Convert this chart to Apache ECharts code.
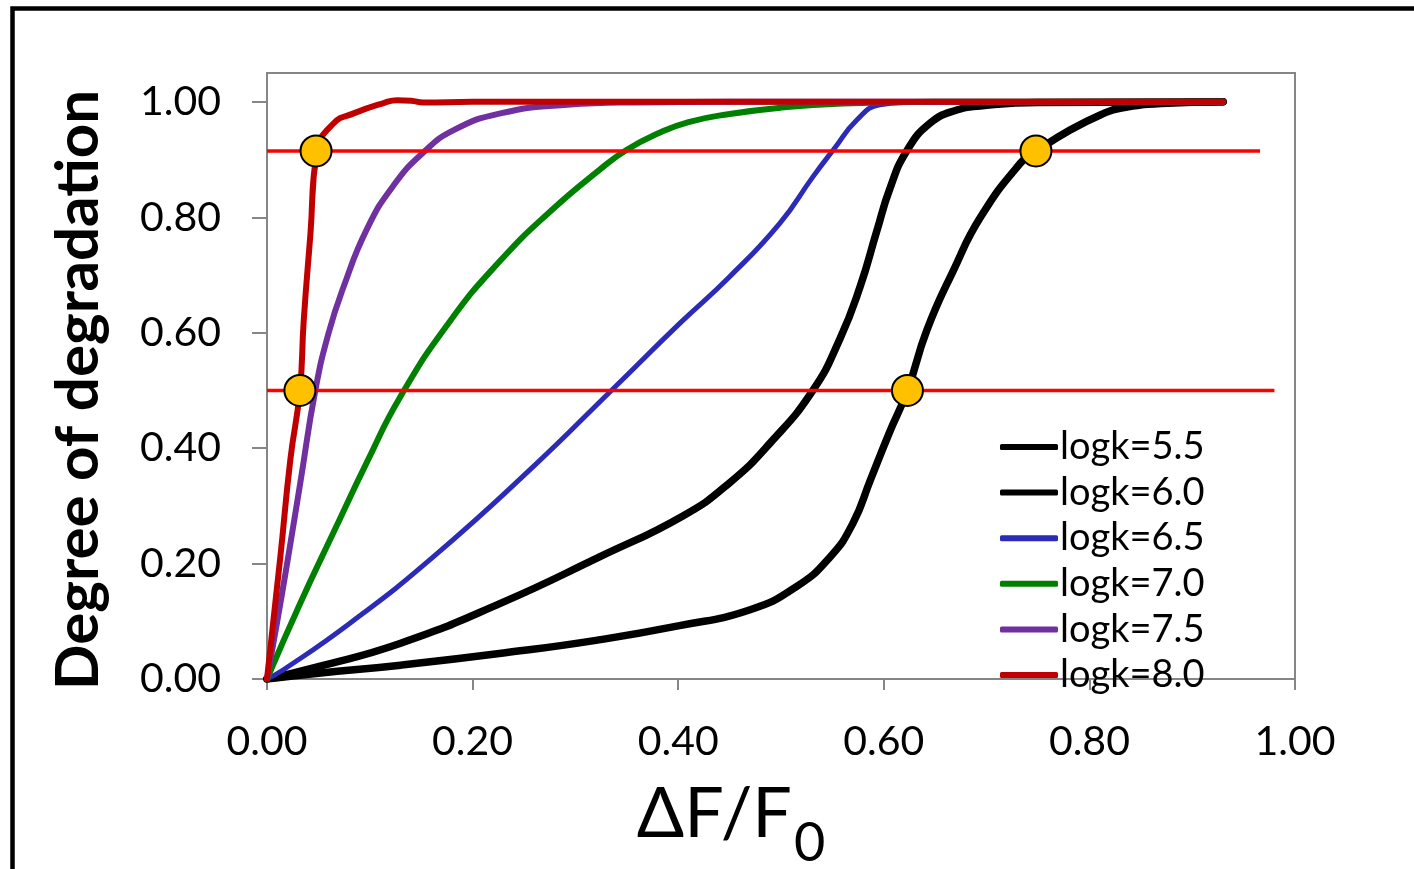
<!DOCTYPE html>
<html>
<head>
<meta charset="utf-8">
<script src="https://cdn.jsdelivr.net/npm/echarts@6/dist/echarts.min.js"></script>
<style>
html,body{margin:0;padding:0;background:#fff;}
#chart{width:1414px;height:869px;}
</style>
</head>
<body>
<div id="chart"></div>
<script>
// ---- data ----
const seriesNames = ['logk=5.5','logk=6.0','logk=6.5','logk=7.0','logk=7.5','logk=8.0'];

const x55 = [0, 0.05, 0.13, 0.23, 0.32, 0.40, 0.47, 0.515, 0.548, 0.57, 0.587, 0.605, 0.623, 0.642, 0.668, 0.694, 0.733, 0.748, 0.781, 0.814, 0.83, 0.87, 0.93];
const y55 = [0, 0.010, 0.024, 0.045, 0.067, 0.092, 0.120, 0.160, 0.212, 0.270, 0.345, 0.425, 0.500, 0.605, 0.709, 0.800, 0.894, 0.914, 0.951, 0.980, 0.989, 0.997, 1.000];

const x60 = [0, 0.049, 0.13, 0.227, 0.324, 0.405, 0.45, 0.49, 0.531, 0.557, 0.577, 0.593, 0.606, 0.622, 0.645, 0.671, 0.694, 0.75, 0.93];
const y60 = [0, 0.021, 0.062, 0.131, 0.212, 0.283, 0.340, 0.410, 0.500, 0.588, 0.680, 0.775, 0.850, 0.914, 0.963, 0.986, 0.993, 0.999, 1.000];

const x65 = [0, 0.016, 0.081, 0.162, 0.259, 0.335, 0.402, 0.45, 0.499, 0.531, 0.551, 0.574, 0.596, 0.622, 0.70, 0.93];
const y65 = [0, 0.016, 0.097, 0.212, 0.368, 0.500, 0.617, 0.697, 0.790, 0.870, 0.917, 0.969, 0.995, 0.999, 1.000, 1.000];

const x70 = [0, 0.032, 0.065, 0.097, 0.13, 0.178, 0.227, 0.276, 0.324, 0.35, 0.38, 0.41, 0.45, 0.50, 0.56, 0.65, 0.93];
const y70 = [0, 0.130, 0.255, 0.375, 0.490, 0.620, 0.725, 0.811, 0.883, 0.917, 0.945, 0.965, 0.979, 0.990, 0.997, 1.000, 1.000];

const x75 = [0, 0.01, 0.02, 0.0324, 0.047, 0.06, 0.0746, 0.0973, 0.123, 0.152, 0.1816, 0.227, 0.292, 0.357, 0.45, 0.93];
const y75 = [0, 0.100, 0.205, 0.340, 0.500, 0.600, 0.680, 0.780, 0.855, 0.912, 0.951, 0.980, 0.995, 0.999, 1.000, 1.000];

const x80 = [0, 0.013, 0.0227, 0.032, 0.0357, 0.0422, 0.0486, 0.0649, 0.0843, 0.1135, 0.1265, 0.14, 0.152, 0.20, 0.93];
const y80 = [0, 0.212, 0.380, 0.500, 0.620, 0.770, 0.914, 0.963, 0.980, 0.998, 1.003, 1.002, 0.999, 1.000, 1.000];

const refHighX = [0, 0.966];
const refHighY = [0.915, 0.915];
const refLowX = [0, 0.98];
const refLowY = [0.5, 0.5];

const markerX = [0.0477, 0.032, 0.623, 0.748];
const markerY = [0.915, 0.5, 0.5, 0.915];

const xTicks = [0, 0.2, 0.4, 0.6, 0.8, 1.0];
const yTicks = [0, 0.2, 0.4, 0.6, 0.8, 1.0];

// ---- build ----
const zip = (xs, ys) => xs.map((x, i) => [x, ys[i]]);
const curveXs = [x55, x60, x65, x70, x75, x80];
const curveYs = [y55, y60, y65, y70, y75, y80];
const curveColors = ['#000000', '#000000', '#2B2BB8', '#008000', '#7030A0', '#C00000'];
const curveWidths = [7.5, 7.5, 5, 6, 6, 6];

const isTick = (v, ticks) => ticks.some(t => Math.abs(t - v) < 1e-6);

const series = curveXs.map((xs, i) => ({
  name: seriesNames[i],
  type: 'line',
  data: zip(xs, curveYs[i]),
  showSymbol: false,
  symbol: 'none',
  smooth: 0.5,
  silent: true,
  color: curveColors[i],
  itemStyle: { color: curveColors[i] },
  lineStyle: { color: curveColors[i], width: curveWidths[i], cap: 'round', join: 'round' },
  z: 2 + i
}));

series.push({
  name: 'ref1', type: 'line', data: zip(refHighX, refHighY), showSymbol: false, symbol: 'none',
  silent: true, lineStyle: { color: '#FF0000', width: 3.5 }, itemStyle: { color: '#FF0000' }, z: 10
});
series.push({
  name: 'ref2', type: 'line', data: zip(refLowX, refLowY), showSymbol: false, symbol: 'none',
  silent: true, lineStyle: { color: '#FF0000', width: 3.5 }, itemStyle: { color: '#FF0000' }, z: 10
});
series.push({
  name: 'points', type: 'scatter', data: zip(markerX, markerY), symbol: 'circle', symbolSize: 31,
  silent: true, itemStyle: { color: '#FFC000', borderColor: '#000000', borderWidth: 2, opacity: 1 }, z: 12
});

const chart = echarts.init(document.getElementById('chart'), null, { renderer: 'canvas' });
chart.setOption({
  animation: false,
  backgroundColor: '#ffffff',
  grid: { left: 267, right: 119, top: 73, bottom: 190, show: true, borderColor: '#868686', borderWidth: 2,
    backgroundColor: 'transparent', containLabel: false, outerBoundsMode: 'none' },
  xAxis: {
    type: 'value', min: 0, max: 1, interval: 0.2,
    axisLine: { show: true, onZero: false, lineStyle: { color: '#868686', width: 2 } },
    axisTick: { show: true, length: 11, lineStyle: { color: '#868686', width: 2 } },
    splitLine: { show: false },
    axisLabel: { margin: 42, fontFamily: 'Lato', fontSize: 41, color: '#000',
      formatter: v => isTick(v, xTicks) ? v.toFixed(2) : '' },
    name: '{a|ΔF/F}{b|0}', nameLocation: 'middle', nameGap: 111,
    nameTextStyle: {
      padding: [0, 100, 0, 0],
      rich: {
        a: { fontFamily: 'Lato', fontSize: 70, lineHeight: 70, color: '#000', padding: [0, 0, 22, 0] },
        b: { fontFamily: 'Lato', fontSize: 54, lineHeight: 54, color: '#000', padding: [38, 0, 0, 2] }
      }
    }
  },
  yAxis: {
    type: 'value', min: 0, max: 1.05, interval: 0.2,
    axisLine: { show: true, onZero: false, lineStyle: { color: '#868686', width: 2 } },
    axisTick: { show: true, length: 15, lineStyle: { color: '#868686', width: 2 } },
    splitLine: { show: false },
    axisLabel: { margin: 46, fontFamily: 'Lato', fontSize: 41, color: '#000', showMaxLabel: false,
      formatter: v => isTick(v, yTicks) ? v.toFixed(2) : '' },
    name: 'Degree of degradation', nameLocation: 'middle', nameGap: 158,
    nameTextStyle: { fontFamily: 'Lato', fontSize: 60, fontWeight: 'bold', color: '#000', padding: [0, 28, 0, 0] }
  },
  legend: {
    data: seriesNames, orient: 'vertical', left: 1000, top: 427, padding: 0,
    icon: 'roundRect', itemWidth: 58, itemHeight: 6, itemGap: 5.6,
    itemStyle: { borderWidth: 0 },
    textStyle: { fontFamily: 'Lato', fontSize: 38, lineHeight: 40, color: '#000', padding: [0, 0, 0, -3] },
    selectedMode: false
  },
  graphic: [{
    type: 'rect', silent: true, z: 100,
    shape: { x: 12.5, y: 8.5, width: 1600, height: 1200 },
    style: { fill: 'none', stroke: '#000', lineWidth: 4.5 }
  }],
  series: series
});
</script>
</body>
</html>
